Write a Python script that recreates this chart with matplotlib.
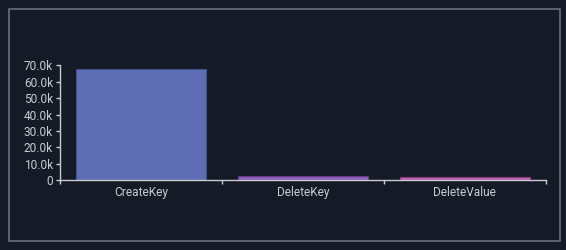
import matplotlib
matplotlib.use("Agg")
from matplotlib import pyplot as plt
from matplotlib.patches import Rectangle
from matplotlib.ticker import FuncFormatter, MultipleLocator

#%% data
categories = ["CreateKey", "DeleteKey", "DeleteValue"]
counts = [67500, 2500, 2000]
colors = ["#5f6db5", "#8c5fb8", "#c25fb0"]
edges = ["#46518a", "#5f3f80", "#8a3f7c"]

bg = "#141a26"
fg = "#c8cbd0"
axis_col = "#c8cbd0"

plt.rcParams['font.family'] = ['Roboto', 'DejaVu Sans']

fig = plt.figure(figsize=(5.66, 2.5), dpi=100)
fig.patch.set_facecolor(bg)

# outer panel border
fig.patches.append(Rectangle((8.5 / 566, 1 - 241 / 250), 551 / 566, 232 / 250,
                             transform=fig.transFigure, fill=False,
                             edgecolor="#6b717c", linewidth=1.2))

ax = fig.add_axes([60 / 566, 1 - 180.3 / 250, 485.7 / 566, 115 / 250])
ax.set_facecolor(bg)

x = range(len(categories))
ax.bar(x, counts, width=0.8, color=colors, edgecolor=edges, linewidth=0.8, zorder=2)

ax.set_xlim(-0.5, len(categories) - 0.5)
ax.set_ylim(0, 70000)

# category ticks sit on band boundaries, labels centred
ax.set_xticks([i - 0.5 for i in range(len(categories) + 1)])
ax.set_xticklabels([])
ax.set_xticks(list(x), minor=True)
ax.set_xticklabels(categories, minor=True)
ax.tick_params(axis='x', which='major', length=3, color=axis_col, width=1)
ax.tick_params(axis='x', which='minor', length=0, pad=4, labelsize=8.6, labelcolor=fg)

ax.yaxis.set_major_locator(MultipleLocator(10000))
ax.yaxis.set_major_formatter(FuncFormatter(lambda v, p: "0" if v == 0 else f"{v / 1000:.1f}k"))
ax.tick_params(axis='y', length=3, color=axis_col, width=1, labelsize=8.6,
               labelcolor=fg, pad=2)

for s in ["top", "right"]:
    ax.spines[s].set_visible(False)
for s in ["left", "bottom"]:
    ax.spines[s].set_color(axis_col)
    ax.spines[s].set_linewidth(1)

fig.savefig("out.png", dpi=100, facecolor=bg)
